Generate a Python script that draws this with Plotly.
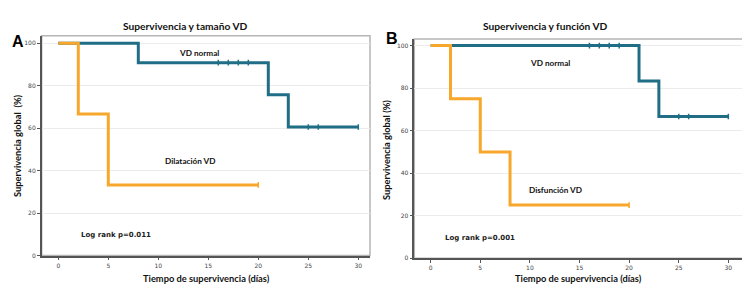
import plotly.graph_objects as go

# ---------------- data ----------------
# Panel A: survival by RV size
a_normal_t = [0, 8, 21, 23, 30]
a_normal_s = [100, 90.9, 75.8, 60.6, 60.6]
a_normal_cens = [16, 17, 18, 19, 25, 26, 30]
a_dil_t = [0, 2, 5, 20]
a_dil_s = [100, 66.7, 33.3, 33.3]
a_dil_cens = [20]

# Panel B: survival by RV function
b_normal_t = [0, 21, 23, 30]
b_normal_s = [100, 83.3, 66.7, 66.7]
b_normal_cens = [16, 17, 18, 19, 25, 26, 30]
b_dis_t = [0, 2, 5, 8, 20]
b_dis_s = [100, 75, 50, 25, 25]
b_dis_cens = [20]

x_ticks = [0, 5, 10, 15, 20, 25, 30]
y_ticks = [0, 20, 40, 60, 80, 100]

BLUE = "#1f6e86"
ORANGE = "#f7a72b"

# page body has an 8px margin; figure is sized to fit the window
OFF = 8
W, H = 750 - OFF, 300 - OFF


def px(x):
    return (x - OFF) / W


def py(y):
    return 1 - (y - OFF) / H


def step_value(ts, ss, t):
    v = ss[0]
    for ti, si in zip(ts, ss):
        if ti <= t:
            v = si
    return v


fig = go.Figure()


def add_curve(ts, ss, cens, color, xa, ya):
    fig.add_trace(go.Scatter(x=ts, y=ss, mode="lines", line=dict(color=color, width=3, shape="hv"),
                             xaxis=xa, yaxis=ya, showlegend=False, hoverinfo="skip"))
    fig.add_trace(go.Scatter(x=cens, y=[step_value(ts, ss, c) for c in cens], mode="markers",
                             marker=dict(symbol="line-ns", size=4, line=dict(color=color, width=1.5)),
                             xaxis=xa, yaxis=ya, showlegend=False, hoverinfo="skip"))


add_curve(a_normal_t, a_normal_s, a_normal_cens, BLUE, "x", "y")
add_curve(a_dil_t, a_dil_s, a_dil_cens, ORANGE, "x", "y")
add_curve(b_normal_t, b_normal_s, b_normal_cens, BLUE, "x2", "y2")
add_curve(b_dis_t, b_dis_s, b_dis_cens, ORANGE, "x2", "y2")

tickfont = dict(family="DejaVu Sans", size=6, color="#444")
xcommon = dict(tickvals=x_ticks, ticks="outside", ticklen=3, tickcolor="#555", tickfont=tickfont,
               showgrid=False, zeroline=False, showline=True, linecolor="#555", linewidth=1.5,
               automargin=False)
ycommon = dict(tickvals=y_ticks, ticks="outside", ticklen=3, tickcolor="#555", tickfont=tickfont,
               showgrid=True, gridcolor="#ececec", gridwidth=1, zeroline=False,
               showline=True, linecolor="#555", linewidth=1.5, automargin=False)

fig.update_layout(
    width=W, height=H,
    margin=dict(l=0, r=0, t=0, b=0, pad=0, autoexpand=False),
    paper_bgcolor="white", plot_bgcolor="white",
    xaxis=dict(domain=[px(41.7), px(370)], range=[-1.66, 31.17], anchor="y", **xcommon),
    yaxis=dict(domain=[py(255.6), py(35.7)], range=[0, 103.6], anchor="x", **ycommon),
    xaxis2=dict(domain=[px(414.3), px(744.3)], range=[-1.65, 31.61], anchor="y2", **xcommon),
    yaxis2=dict(domain=[py(258.3), py(39)], range=[0, 103.1], anchor="x2", **ycommon),
)

# light box on top/right
for xr, yr in (("x domain", "y domain"), ("x2 domain", "y2 domain")):
    fig.add_shape(type="rect", xref=xr, yref=yr, x0=0, x1=1, y0=0, y1=1,
                  line=dict(color="#b5b5b5", width=1.5), layer="below")

tfont = dict(family="Lato", size=10.2, color="#111")
lblfont = dict(family="Lato", size=9.3, color="#111")
smallfont = dict(family="Lato", size=8.2, color="#111")
rankfont = dict(family="DejaVu Sans", size=7, color="#222")

anns = [
    # titles
    dict(x=185.7, y=26, text="<b>Supervivencia y tamaño VD</b>", font=tfont),
    dict(x=545.7, y=26, text="<b>Supervivencia y función VD</b>", font=tfont),
    # panel letters
    dict(x=18, y=41, text="<b>A</b>", font=dict(family="Liberation Sans", size=16, color="#000")),
    dict(x=391.5, y=39, text="<b>B</b>", font=dict(family="Liberation Sans", size=16, color="#000")),
    # axis titles
    dict(x=206, y=278, text="<b>Tiempo de supervivencia (días)</b>", font=lblfont),
    dict(x=578, y=278, text="<b>Tiempo de supervivencia (días)</b>", font=lblfont),
    dict(x=17, y=146, text="<b>Supervivencia global  (%)</b>", font=lblfont, textangle=-90),
    dict(x=387, y=150, text="<b>Supervivencia global (%)</b>", font=lblfont, textangle=-90),
]
for a in anns:
    a.update(xref="paper", yref="paper", showarrow=False, xanchor="center", yanchor="middle")
    a["x"] = px(a["x"])
    a["y"] = py(a["y"])
    fig.add_annotation(**a)

data_anns = [
    dict(x=14.1, y=95.4, text="<b>VD normal</b>", xref="x", yref="y", font=smallfont),
    dict(x=13.2, y=44.8, text="<b>Dilatación VD</b>", xref="x", yref="y", font=smallfont),
    dict(x=5.8, y=9.6, text="<b>Log rank p=0.011</b>", xref="x", yref="y", font=rankfont),
    dict(x=12.0, y=92.0, text="<b>VD normal</b>", xref="x2", yref="y2", font=smallfont),
    dict(x=12.6, y=31.9, text="<b>Disfunción VD</b>", xref="x2", yref="y2", font=smallfont),
    dict(x=5.0, y=9.6, text="<b>Log rank p=0.001</b>", xref="x2", yref="y2", font=rankfont),
]
for a in data_anns:
    fig.add_annotation(showarrow=False, xanchor="center", yanchor="middle", **a)

fig.write_html("out.html")
